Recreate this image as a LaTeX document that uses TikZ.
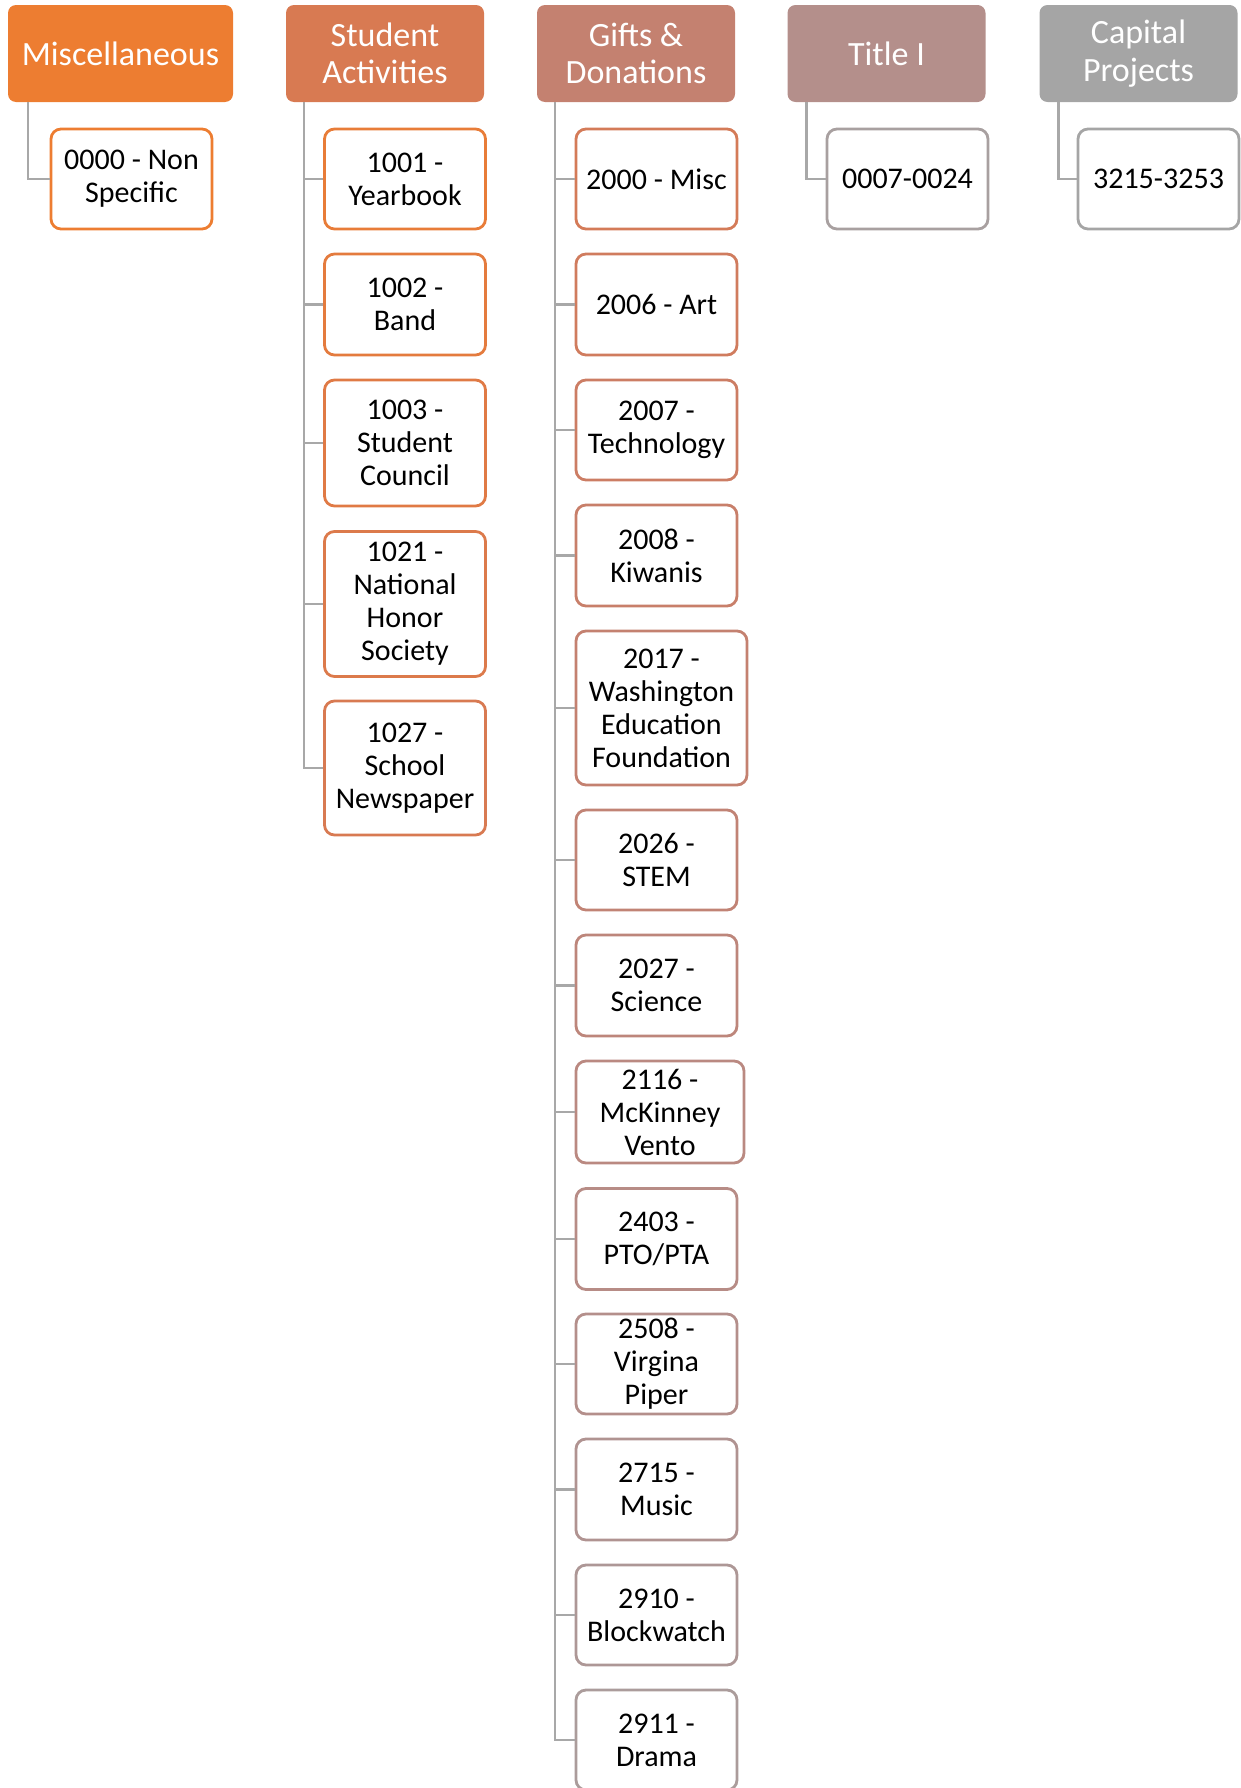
\documentclass[tikz,border=0pt]{standalone}
\usepackage{fontspec}
\setmainfont{Carlito}
% header fills
\definecolor{hA}{HTML}{ED7D31}
\definecolor{hB}{HTML}{D87A52}
\definecolor{hC}{HTML}{C48170}
\definecolor{hD}{HTML}{B48F8B}
\definecolor{hE}{HTML}{A5A5A5}
% child outlines, shading from orange to grey
\definecolor{k0}{HTML}{ED7D31}
\definecolor{k1}{HTML}{E87C38}
\definecolor{k2}{HTML}{E47B3E}
\definecolor{k3}{HTML}{E07A45}
\definecolor{k4}{HTML}{DC7A4B}
\definecolor{k5}{HTML}{D87A52}
\definecolor{k6}{HTML}{D47B58}
\definecolor{k7}{HTML}{D07C5E}
\definecolor{k8}{HTML}{CC7D64}
\definecolor{k9}{HTML}{C87F6A}
\definecolor{k10}{HTML}{C48170}
\definecolor{k11}{HTML}{C18375}
\definecolor{k12}{HTML}{BD867B}
\definecolor{k13}{HTML}{BA8981}
\definecolor{k14}{HTML}{B78C86}
\definecolor{k15}{HTML}{B48F8B}
\definecolor{k16}{HTML}{B09391}
\definecolor{k17}{HTML}{AD9796}
\definecolor{k18}{HTML}{AB9C9B}
\definecolor{k19}{HTML}{A8A0A0}
\definecolor{k20}{HTML}{A5A5A5}
\definecolor{linegrey}{HTML}{A8A8A8}
\tikzset{
  hdr/.style={rectangle, rounded corners=4pt, draw=none, text=white, inner sep=0pt,
    align=center, minimum height=48.5pt, minimum width=99pt,
    font=\fontsize{17}{18.8}\selectfont},
  leaf/.style={rectangle, rounded corners=5pt, fill=white, line width=1.4pt, inner sep=0pt,
    align=center, minimum height=50pt, minimum width=80.5pt,
    font=\fontsize{15}{16.5}\selectfont},
  conn/.style={draw=linegrey, line width=1.3pt}
}
\begin{document}
\begin{tikzpicture}[x=0.5pt, y=-0.5pt]
\useasboundingbox (0,0) rectangle (1241,1788);

% category headers
\node[hdr, fill=hA, minimum width=112.5pt] (hM) at (120.5,53.5) {Miscellaneous};
\node[hdr, fill=hB] (hS) at (385,53.5) {Student\\Activities};
\node[hdr, fill=hC] (hG) at (636,53.5) {Gifts \&\\Donations};
\node[hdr, fill=hD] (hT) at (886.5,53.5) {Title I};
\node[hdr, fill=hE] (hP) at (1138.5,53.5) {Capital\\Projects};

% Miscellaneous
\node[leaf, draw=k0] (m1) at (131.5,179) {0000 - Non\\Specific};

% Student Activities
\node[leaf, draw=k1] (s1) at (405,179) {1001 -\\Yearbook};
\node[leaf, draw=k2, minimum height=50.5pt] (s2) at (405,304.5) {1002 -\\Band};
\node[leaf, draw=k3, minimum height=63pt] (s3) at (405,443) {1003 -\\Student\\Council};
\node[leaf, draw=k4, minimum height=72.5pt] (s4) at (405,604) {1021 -\\National\\Honor\\Society};
\node[leaf, draw=k5, minimum height=67pt] (s5) at (405,768) {1027 -\\School\\Newspaper};

% Gifts & Donations
\node[leaf, draw=k6] (g1) at (656.5,179) {2000 - Misc};
\node[leaf, draw=k7, minimum height=50.5pt] (g2) at (656.5,304.5) {2006 - Art};
\node[leaf, draw=k8] (g3) at (656.5,430) {2007 -\\Technology};
\node[leaf, draw=k9, minimum height=50.5pt] (g4) at (656.5,555.5) {2008 -\\Kiwanis};
\node[leaf, draw=k10, minimum height=77pt, minimum width=85.5pt] (g5) at (661.5,708) {2017 -\\Washington\\Education\\Foundation};
\node[leaf, draw=k11] (g6) at (656.5,860) {2026 -\\STEM};
\node[leaf, draw=k12, minimum height=50.5pt] (g7) at (656.5,985.5) {2027 -\\Science};
\node[leaf, draw=k13, minimum height=51pt, minimum width=84pt] (g8) at (660,1112) {2116 -\\McKinney\\Vento};
\node[leaf, draw=k14, minimum height=50.5pt] (g9) at (656.5,1239) {2403 -\\PTO/PTA};
\node[leaf, draw=k15] (g10) at (656.5,1364) {2508 -\\Virgina\\Piper};
\node[leaf, draw=k16, minimum height=50.5pt] (g11) at (656.5,1489.5) {2715 -\\Music};
\node[leaf, draw=k17] (g12) at (656.5,1615) {2910 -\\Blockwatch};
\node[leaf, draw=k18] (g13) at (656.5,1740) {2911 -\\Drama};

% Title I
\node[leaf, draw=k19] (t1) at (907.5,179) {0007-0024};

% Capital Projects
\node[leaf, draw=k20] (p1) at (1158.5,179) {3215-3253};

% elbow connectors from each header to its entries
\draw[conn] ([xshift=10.25pt]hM.south west) |- (m1.west);
\foreach \n in {s1,s2,s3,s4,s5}
  \draw[conn] ([xshift=9.25pt]hS.south west) |- (\n.west);
\foreach \n in {g1,g2,g3,g4,g5,g6,g7,g8,g9,g10,g11,g12,g13}
  \draw[conn] ([xshift=9.25pt]hG.south west) |- (\n.west);
\draw[conn] ([xshift=9.75pt]hT.south west) |- (t1.west);
\draw[conn] ([xshift=9.75pt]hP.south west) |- (p1.west);
\end{tikzpicture}
\end{document}
